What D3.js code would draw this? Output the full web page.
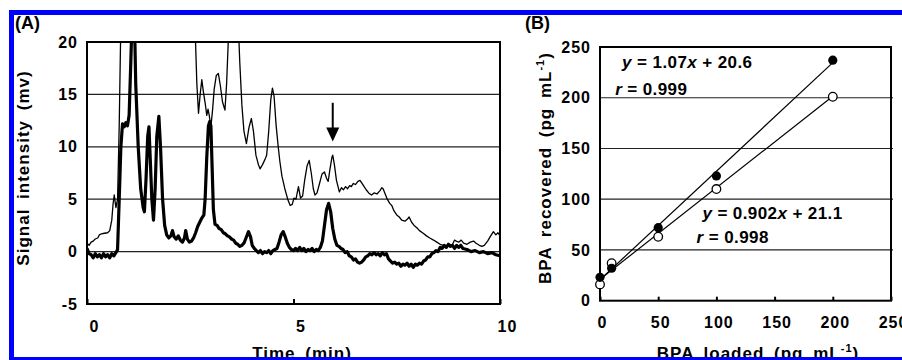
<!DOCTYPE html>
<html>
<head>
<meta charset="utf-8">
<script src="https://cdn.jsdelivr.net/npm/d3@7"></script>
<style>
  html, body { margin: 0; padding: 0; background: #fff; }
  svg { display: block; font-family: "Liberation Sans", Arial, sans-serif; font-weight: bold; }
</style>
</head>
<body>
<svg width="902" height="360"></svg>
<script>
// panel A: chromatograms (time in min, signal in mV)
var sampleTrace = [
  [0.00,0.3],[0.05,-0.2],[0.10,-0.3],[0.15,-0.6],[0.20,-0.2],[0.25,-0.5],[0.30,-0.3],[0.35,-0.6],
  [0.40,-0.2],[0.45,-0.5],[0.50,-0.3],[0.55,-0.6],[0.60,-0.2],[0.65,-0.4],[0.70,-0.1],[0.74,0.2],
  [0.78,5],[0.82,10],[0.86,12.2],[0.90,11.9],[0.94,12.3],[0.98,12.0],[1.02,13],[1.06,18],
  [1.09,22],[1.12,24],[1.15,22],[1.18,16],[1.24,10],[1.30,6],[1.36,4.2],[1.39,3.8],
  [1.43,7],[1.47,11],[1.50,11.9],[1.53,9],[1.57,5],[1.61,3.0],[1.65,6],[1.69,11],
  [1.74,12.9],[1.78,10],[1.83,5],[1.88,2.5],[1.93,1.6],[1.98,1.3],[2.03,1.5],[2.07,2.0],
  [2.11,1.4],[2.16,1.2],[2.21,1.5],[2.26,1.1],[2.31,0.9],[2.36,1.3],[2.39,2.0],[2.43,1.2],
  [2.48,0.9],[2.53,1.0],[2.58,1.3],[2.63,1.8],[2.68,2.4],[2.73,2.8],[2.78,3.2],[2.83,3.5],
  [2.86,5],[2.90,9],[2.94,12.0],[2.97,12.4],[3.00,12.0],[3.03,8],[3.06,4],[3.10,2.6],
  [3.15,2.5],[3.20,2.2],[3.25,2.1],[3.30,1.8],[3.35,1.7],[3.40,1.5],[3.45,1.4],[3.50,1.2],
  [3.55,1.1],[3.60,0.8],[3.65,0.7],[3.70,0.5],[3.75,0.6],[3.80,0.8],[3.85,1.3],[3.91,1.9],
  [3.96,1.4],[4.00,0.6],[4.05,0.3],[4.10,0.1],[4.15,-0.1],[4.20,0.1],[4.25,-0.2],[4.30,0.0],
  [4.35,-0.1],[4.40,0.1],[4.45,-0.2],[4.50,0.1],[4.55,0.2],[4.60,0.3],[4.65,0.9],[4.70,1.6],
  [4.75,1.9],[4.80,1.4],[4.85,0.8],[4.90,0.4],[4.95,0.2],[5.00,0.1],[5.05,0.3],[5.10,0.1],
  [5.15,0.4],[5.20,0.1],[5.25,0.3],[5.30,0.0],[5.35,0.2],[5.40,0.1],[5.45,0.3],[5.50,0.0],
  [5.55,0.2],[5.60,0.1],[5.65,0.4],[5.70,1.0],[5.75,2.5],[5.80,4.0],[5.85,4.6],[5.90,3.8],
  [5.95,2.2],[6.00,1.2],[6.05,0.6],[6.10,0.5],[6.15,0.3],[6.20,0.2],[6.25,-0.1],[6.30,0.0],
  [6.35,-0.4],[6.40,-0.5],[6.45,-0.8],[6.50,-0.7],[6.55,-1.0],[6.60,-1.1],[6.65,-1.0],[6.70,-0.8],
  [6.75,-0.5],[6.80,-0.4],[6.85,-0.2],[6.90,-0.3],[6.95,-0.1],[7.00,-0.3],[7.05,-0.2],[7.10,-0.4],
  [7.15,-0.1],[7.20,-0.3],[7.25,-0.2],[7.30,-0.7],[7.35,-0.9],[7.40,-1.1],[7.45,-1.0],[7.50,-1.2],
  [7.55,-1.1],[7.60,-1.4],[7.65,-1.2],[7.70,-1.3],[7.75,-1.1],[7.80,-1.4],[7.85,-1.2],[7.90,-1.5],
  [7.95,-1.2],[8.00,-1.3],[8.05,-1.1],[8.10,-1.2],[8.15,-0.9],[8.20,-0.8],[8.25,-0.5],[8.30,-0.5],
  [8.35,-0.2],[8.40,-0.1],[8.45,0.1],[8.50,0.0],[8.55,0.4],[8.60,0.3],[8.65,0.6],[8.70,0.4],
  [8.75,0.7],[8.80,0.5],[8.85,0.6],[8.90,0.3],[8.95,0.6],[9.00,0.4],[9.05,0.6],[9.10,0.3],
  [9.20,0.2],[9.30,0.0],[9.40,0.1],[9.50,-0.1],[9.60,0.0],[9.70,-0.2],[9.80,-0.1],[9.90,-0.3],
  [10.00,-0.4]
];

var spikedTrace = [
  [0.00,0.8],[0.05,0.6],[0.10,0.9],[0.15,1.0],[0.20,1.2],[0.26,1.3],[0.30,1.6],[0.35,1.7],
  [0.42,1.75],[0.50,1.8],[0.55,2.0],[0.60,3.0],[0.63,4.5],[0.66,5.4],[0.70,4.2],[0.74,5.0],
  [0.78,12],[0.82,22],[0.90,30],[1.50,40],[2.55,30],[2.62,21],[2.66,16],[2.70,13.2],
  [2.74,15],[2.78,16.4],[2.82,15.2],[2.86,14.2],[2.90,13.0],[2.93,13.6],[2.96,13.0],[3.00,11.9],
  [3.04,13.5],[3.08,15.5],[3.13,16.8],[3.18,17.0],[3.23,15.8],[3.28,14.3],[3.34,13.5],[3.38,16],
  [3.42,20],[3.45,23],[3.55,28],[3.66,22],[3.70,18],[3.75,14],[3.80,11.5],[3.86,10.3],
  [3.92,11.8],[3.98,12.7],[4.03,11.5],[4.09,9.2],[4.15,8.3],[4.19,7.9],[4.25,8.3],[4.31,8.8],
  [4.35,9.2],[4.40,11.5],[4.45,14.5],[4.49,15.6],[4.53,14.8],[4.58,12],[4.63,10],[4.67,8.6],
  [4.72,7.2],[4.79,6.0],[4.86,5.0],[4.92,4.4],[4.97,4.5],[5.01,5.1],[5.06,5.0],[5.12,6.2],
  [5.17,5.1],[5.22,5.3],[5.27,6.8],[5.33,8.2],[5.38,8.7],[5.43,7.5],[5.48,6.0],[5.52,5.4],
  [5.57,5.6],[5.63,6.5],[5.69,7.4],[5.75,7.6],[5.80,7.0],[5.84,6.7],[5.88,7.8],[5.93,9.0],
  [5.95,9.2],[5.99,8.3],[6.04,6.8],[6.11,5.7],[6.16,6.1],[6.21,5.9],[6.26,6.2],[6.31,6.0],
  [6.36,6.3],[6.40,6.2],[6.45,6.5],[6.50,6.4],[6.56,6.7],[6.61,6.8],[6.66,6.5],[6.71,6.2],
  [6.76,5.9],[6.82,5.6],[6.89,5.4],[6.95,5.6],[7.02,5.5],[7.09,5.8],[7.14,6.1],[7.17,6.0],
  [7.22,5.5],[7.27,5.0],[7.33,4.6],[7.38,4.4],[7.43,3.9],[7.50,3.5],[7.56,3.3],[7.62,3.0],
  [7.70,2.9],[7.76,3.1],[7.80,3.3],[7.86,2.8],[7.92,2.5],[7.98,2.3],[8.05,2.0],[8.14,1.75],
  [8.22,1.5],[8.30,1.3],[8.39,1.1],[8.47,0.9],[8.55,0.7],[8.63,0.6],[8.71,0.5],[8.78,0.7],
  [8.84,0.6],[8.90,1.1],[8.94,1.0],[9.00,0.9],[9.06,1.1],[9.12,0.8],[9.20,0.7],[9.28,0.9],
  [9.36,1.0],[9.42,0.8],[9.50,0.6],[9.56,0.5],[9.62,0.6],[9.70,1.0],[9.76,1.4],[9.84,1.9],
  [9.90,1.6],[9.95,1.8],[10.00,1.5]
];
var arrowTime = 5.95;
var arrowFrom = 14.2, arrowTo = 10.5;

var timeTicks = [0, 5, 10];
var signalTicks = [-5, 0, 5, 10, 15, 20];

// panel B: recovery
var bpaLoaded = [0, 10, 50, 100, 200];
var recoveredFilled = [23, 32, 72, 123, 237];
var recoveredOpen = [16, 37, 63, 110, 201];
var fitSlopes = [1.07, 0.902];
var fitIntercepts = [20.6, 21.1];
var loadedTicks = [0, 50, 100, 150, 200, 250];
var recoveredTicks = [0, 50, 100, 150, 200, 250];

var svg = d3.select('svg');
var blue = '#0000ff';
var plain = function(d){ return String(d); }; // keep the hyphen minus of the original

// ---------- panel A ----------
var xA = d3.scaleLinear().domain([0, 10]).range([87, 500]);
var yA = d3.scaleLinear().domain([-5, 20]).range([304, 42]);

svg.append('clipPath').attr('id', 'clipA')
  .append('rect')
  .attr('x', xA(0)).attr('y', yA(20))
  .attr('width', xA(10) - xA(0)).attr('height', yA(-5) - yA(20));

svg.append('g').selectAll('line').data(signalTicks.filter(function(d){ return d > -5 && d < 20; }))
  .enter().append('line')
  .attr('x1', xA(0)).attr('x2', xA(10))
  .attr('y1', function(d){ return yA(d); }).attr('y2', function(d){ return yA(d); })
  .attr('stroke', '#222').attr('stroke-width', 1.2);

var lineA = d3.line()
  .x(function(d){ return xA(d[0]); })
  .y(function(d){ return yA(d[1]); });

var traces = svg.append('g').attr('clip-path', 'url(#clipA)');
traces.append('path').datum(spikedTrace)
  .attr('d', lineA).attr('fill', 'none')
  .attr('stroke', '#000').attr('stroke-width', 1.3).attr('stroke-linejoin', 'round');
traces.append('path').datum(sampleTrace)
  .attr('d', lineA).attr('fill', 'none')
  .attr('stroke', '#000').attr('stroke-width', 3.2).attr('stroke-linejoin', 'round');

svg.append('rect')
  .attr('x', xA(0)).attr('y', yA(20))
  .attr('width', xA(10) - xA(0)).attr('height', yA(-5) - yA(20))
  .attr('fill', 'none').attr('stroke', '#000').attr('stroke-width', 2);

var axA = svg.append('g').attr('transform', 'translate(0,' + yA(-5) + ')')
  .call(d3.axisBottom(xA).tickValues(timeTicks).tickSizeInner(-5).tickSizeOuter(0).tickFormat(plain));
axA.select('.domain').remove();
axA.selectAll('line').attr('stroke', '#000').attr('stroke-width', 2);
axA.selectAll('text').attr('y', 28).attr('dy', 0).attr('dx', 7)
  .attr('fill', '#000').style('font-size', '16px').style('font-weight', 'bold').style('letter-spacing', '1px')
  .style('font-family', '"Liberation Sans", Arial, sans-serif');

var ayA = svg.append('g').attr('transform', 'translate(' + xA(0) + ',0)')
  .call(d3.axisLeft(yA).tickValues(signalTicks).tickSize(0).tickPadding(9).tickFormat(plain));
ayA.select('.domain').remove();
ayA.selectAll('text').attr('fill', '#000')
  .style('font-size', '16px').style('font-weight', 'bold').style('letter-spacing', '1px')
  .style('font-family', '"Liberation Sans", Arial, sans-serif');

// arrow over the BPA peak
svg.append('line')
  .attr('x1', xA(arrowTime)).attr('x2', xA(arrowTime))
  .attr('y1', yA(arrowFrom)).attr('y2', yA(arrowTo) - 12)
  .attr('stroke', '#000').attr('stroke-width', 2);
svg.append('path')
  .attr('d', 'M' + (xA(arrowTime) - 6.5) + ',' + (yA(arrowTo) - 14) +
             'L' + (xA(arrowTime) + 6.5) + ',' + (yA(arrowTo) - 14) +
             'L' + xA(arrowTime) + ',' + yA(arrowTo) + 'Z')
  .attr('fill', '#000');

svg.append('text').attr('x', 15).attr('y', 29).style('font-size', '18px').text('(A)');

svg.append('text')
  .attr('transform', 'translate(29,168) rotate(-90)')
  .attr('text-anchor', 'middle')
  .style('font-size', '17px').style('letter-spacing', '1px').style('word-spacing', '4px')
  .text('Signal intensity (mv)');

svg.append('text')
  .attr('x', 302).attr('y', 359)
  .attr('text-anchor', 'middle')
  .style('font-size', '17px').style('letter-spacing', '1px').style('word-spacing', '4px')
  .text('Time (min)');

// ---------- panel B ----------
var xB = d3.scaleLinear().domain([0, 250]).range([600, 891]);
var yB = d3.scaleLinear().domain([0, 250]).range([300.7, 47]);

svg.append('g').selectAll('line').data(recoveredTicks.filter(function(d){ return d > 0 && d < 250; }))
  .enter().append('line')
  .attr('x1', xB(0)).attr('x2', xB(250) + 2)
  .attr('y1', function(d){ return yB(d); }).attr('y2', function(d){ return yB(d); })
  .attr('stroke', '#222').attr('stroke-width', 1.2);

svg.append('rect')
  .attr('x', xB(0)).attr('y', yB(250))
  .attr('width', xB(250) - xB(0)).attr('height', yB(0) - yB(250))
  .attr('fill', 'none').attr('stroke', '#000').attr('stroke-width', 2);

var fits = svg.append('g');
fitSlopes.forEach(function(m, i){
  var b = fitIntercepts[i];
  fits.append('line')
    .attr('x1', xB(0)).attr('y1', yB(b))
    .attr('x2', xB(200)).attr('y2', yB(m * 200 + b))
    .attr('stroke', '#000').attr('stroke-width', 1.2);
});

var filledPts = bpaLoaded.map(function(d, i){ return [d, recoveredFilled[i]]; });
var openPts = bpaLoaded.map(function(d, i){ return [d, recoveredOpen[i]]; });

svg.append('g').selectAll('circle').data(openPts).enter().append('circle')
  .attr('cx', function(d){ return xB(d[0]); })
  .attr('cy', function(d){ return yB(d[1]); })
  .attr('r', 4.3)
  .attr('fill', '#fff').attr('stroke', '#000').attr('stroke-width', 1.3);

svg.append('g').selectAll('circle').data(filledPts).enter().append('circle')
  .attr('cx', function(d){ return xB(d[0]); })
  .attr('cy', function(d){ return yB(d[1]); })
  .attr('r', 4.6)
  .attr('fill', '#000');

var axB = svg.append('g').attr('transform', 'translate(0,' + yB(0) + ')')
  .call(d3.axisBottom(xB).tickValues(loadedTicks).tickSizeInner(-4).tickSizeOuter(0).tickFormat(plain));
axB.select('.domain').remove();
axB.selectAll('line').attr('stroke', '#000').attr('stroke-width', 2);
axB.selectAll('text').attr('y', 27).attr('dy', 0).attr('dx', 2)
  .attr('fill', '#000').style('font-size', '16px').style('font-weight', 'bold').style('letter-spacing', '1px')
  .style('font-family', '"Liberation Sans", Arial, sans-serif');

var ayB = svg.append('g').attr('transform', 'translate(' + xB(0) + ',0)')
  .call(d3.axisLeft(yB).tickValues(recoveredTicks).tickSize(0).tickPadding(9).tickFormat(plain));
ayB.select('.domain').remove();
ayB.selectAll('text').attr('fill', '#000')
  .style('font-size', '16px').style('font-weight', 'bold').style('letter-spacing', '1px')
  .style('font-family', '"Liberation Sans", Arial, sans-serif');

// fit equations
function equation(x, y, parts){
  var t = svg.append('text').attr('x', xB(x)).attr('y', yB(y))
    .style('font-size', '17px').style('letter-spacing', '0.4px');
  parts.forEach(function(p){
    t.append('tspan').style('font-style', p[1] ? 'italic' : 'normal').text(p[0]);
  });
}
equation(19, 229, [['y', true], [' = ' + fitSlopes[0], false], ['x', true], [' + ' + fitIntercepts[0], false]]);
equation(13, 203, [['r', true], [' = 0.999', false]]);
equation(88, 80.5, [['y', true], [' = ' + fitSlopes[1], false], ['x', true], [' + ' + fitIntercepts[1], false]]);
equation(83, 57, [['r', true], [' = 0.998', false]]);

svg.append('text').attr('x', 525).attr('y', 29).style('font-size', '18px').text('(B)');

var yTitleB = svg.append('text')
  .attr('transform', 'translate(551,168) rotate(-90)')
  .attr('text-anchor', 'middle')
  .style('font-size', '17px').style('letter-spacing', '1px').style('word-spacing', '4px');
yTitleB.append('tspan').text('BPA recovered (pg mL');
yTitleB.append('tspan').attr('dy', -7).style('font-size', '11px').text('-1');
yTitleB.append('tspan').attr('dy', 7).text(')');

var xTitleB = svg.append('text')
  .attr('x', 758).attr('y', 359)
  .attr('text-anchor', 'middle')
  .style('font-size', '17px').style('letter-spacing', '1px').style('word-spacing', '4px');
xTitleB.append('tspan').text('BPA loaded (pg mL');
xTitleB.append('tspan').attr('dy', -7).style('font-size', '11px').text('-1');
xTitleB.append('tspan').attr('dy', 7).text(')');

// blue frame
svg.append('rect').attr('x', 9).attr('y', 10).attr('width', 893).attr('height', 5).attr('fill', blue);
svg.append('rect').attr('x', 9).attr('y', 10).attr('width', 5).attr('height', 350).attr('fill', blue);
svg.append('rect').attr('x', 9).attr('y', 357).attr('width', 893).attr('height', 3).attr('fill', blue);
</script>
</body>
</html>
